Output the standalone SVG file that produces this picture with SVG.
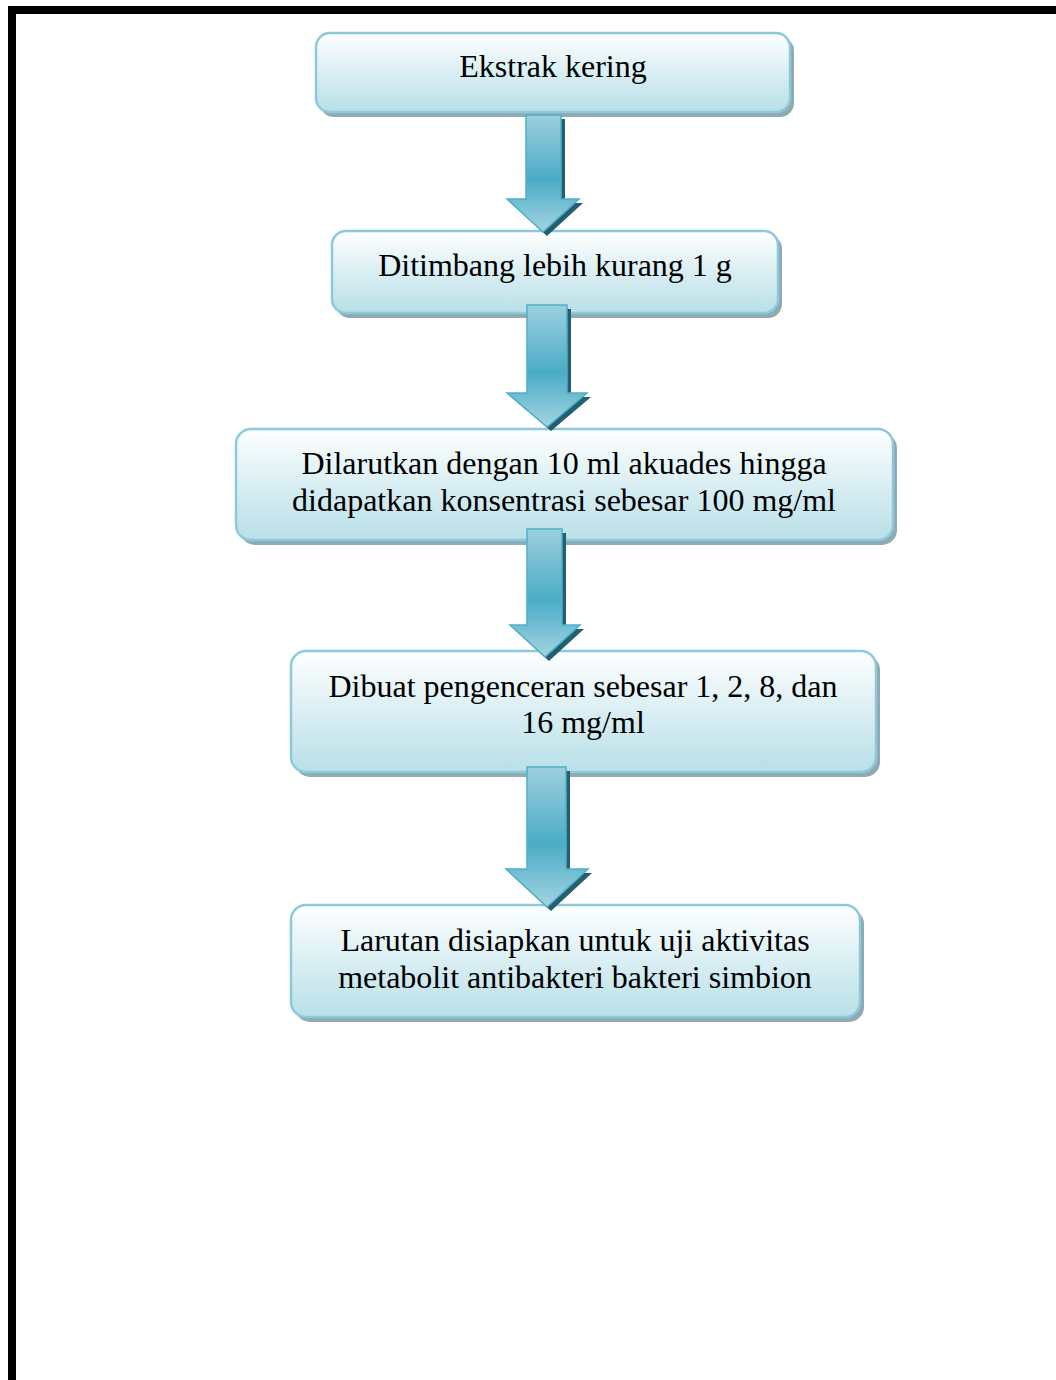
<svg xmlns="http://www.w3.org/2000/svg" width="1056" height="1380" viewBox="0 0 1056 1380">
  <defs>
    <linearGradient id="boxFill" x1="0" y1="0" x2="0" y2="1">
      <stop offset="0" stop-color="#ffffff"/>
      <stop offset="0.55" stop-color="#d6edf2"/>
      <stop offset="1" stop-color="#b9dfe8"/>
    </linearGradient>
    <linearGradient id="arrowFill" x1="0" y1="0" x2="0" y2="1">
      <stop offset="0" stop-color="#9ccfdf"/>
      <stop offset="0.55" stop-color="#4aacc6"/>
      <stop offset="0.72" stop-color="#6bbbd0"/>
      <stop offset="1" stop-color="#a3d4e2"/>
    </linearGradient>
    <style>
      .shadow { fill: #8faab2; }
      .box { fill: url(#boxFill); stroke: #8ccadb; stroke-width: 2.5; }
      .label { font-family: "Liberation Serif", "Times New Roman", serif; font-size: 32px; fill: #000; text-anchor: middle; }
      .arrow-shadow { fill: #235f6e; }
      .arrow { fill: url(#arrowFill); stroke: #4fb0c8; stroke-width: 1.5; stroke-linejoin: miter; }
    </style>
  </defs>

  <rect width="1056" height="1380" fill="#ffffff"/>

  <!-- page frame -->
  <rect x="8" y="6" width="1048" height="8" fill="#000"/>
  <rect x="8" y="6" width="8" height="1374" fill="#000"/>

  <g id="step1">
    <rect class="shadow" x="320" y="37" width="474" height="80" rx="14"/>
    <rect class="box" x="316" y="33" width="474" height="79" rx="14"/>
    <text class="label" x="553" y="77">Ekstrak kering</text>
  </g>

  <g id="step2">
    <rect class="shadow" x="336" y="235" width="446" height="83" rx="14"/>
    <rect class="box" x="332" y="231" width="446" height="82" rx="14"/>
    <text class="label" x="555" y="276">Ditimbang lebih kurang 1 g</text>
  </g>

  <g id="step3">
    <rect class="shadow" x="240" y="433" width="657" height="112" rx="15"/>
    <rect class="box" x="236" y="429" width="657" height="111" rx="15"/>
    <text class="label" x="564" y="474">Dilarutkan dengan 10 ml akuades hingga</text>
    <text class="label" x="564" y="511">didapatkan konsentrasi sebesar 100 mg/ml</text>
  </g>

  <g id="step4">
    <rect class="shadow" x="295" y="655" width="585" height="122" rx="15"/>
    <rect class="box" x="291" y="651" width="585" height="121" rx="15"/>
    <text class="label" x="583" y="697">Dibuat pengenceran sebesar 1, 2, 8, dan</text>
    <text class="label" x="583" y="733">16 mg/ml</text>
  </g>

  <g id="step5">
    <rect class="shadow" x="295" y="909" width="569" height="113" rx="15"/>
    <rect class="box" x="291" y="905" width="569" height="112" rx="15"/>
    <text class="label" x="575" y="951">Larutan disiapkan untuk uji aktivitas</text>
    <text class="label" x="575" y="988">metabolit antibakteri bakteri simbion</text>
  </g>

  <g id="connectors">
    <!-- step1 to step2 -->
    <polygon class="arrow-shadow" points="530,119 565,119 565,203 583,203 547,236 511,203 530,203"/>
    <polygon class="arrow" points="526,115 561,115 561,199 579,199 543,232 507,199 526,199"/>
    <!-- step2 to step3 -->
    <polygon class="arrow-shadow" points="531,309 571,309 571,397 591,397 551,431 511,397 531,397"/>
    <polygon class="arrow" points="527,305 567,305 567,393 587,393 547,427 507,393 527,393"/>
    <!-- step3 to step4 -->
    <polygon class="arrow-shadow" points="531,533 566,533 566,629 584,629 549,661 514,629 531,629"/>
    <polygon class="arrow" points="527,529 562,529 562,625 580,625 545,657 510,625 527,625"/>
    <!-- step4 to step5 -->
    <polygon class="arrow-shadow" points="531,771 570,771 570,873 592,873 551,911 510,873 531,873"/>
    <polygon class="arrow" points="527,767 566,767 566,869 588,869 547,907 506,869 527,869"/>
  </g>
</svg>
